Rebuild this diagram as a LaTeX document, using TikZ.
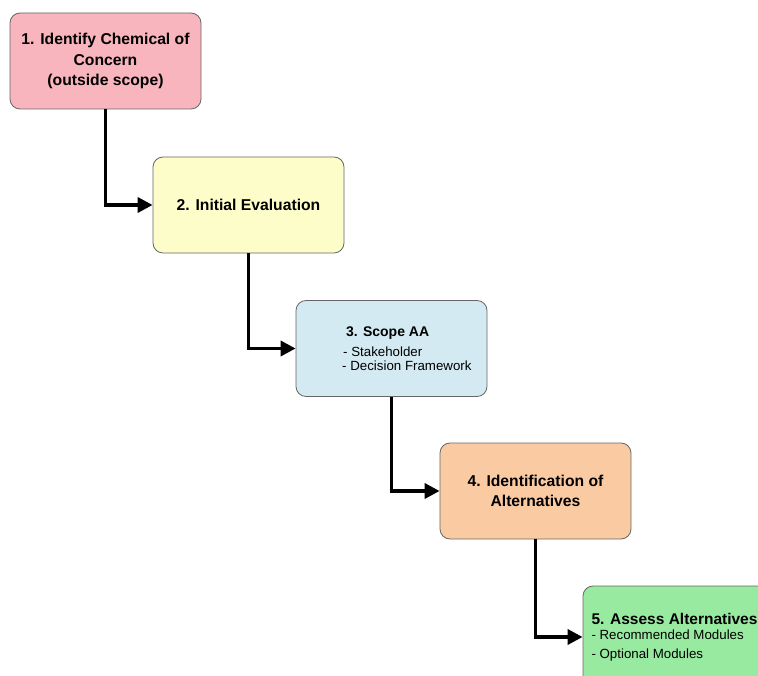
\documentclass[tikz,border=0pt]{standalone}
\usepackage{fontspec}
\setmainfont{Liberation Sans}
\usetikzlibrary{arrows.meta}
\usepackage{xcolor}

\definecolor{stepPink}{HTML}{F8B5BD}
\definecolor{stepYellow}{HTML}{FDFDC9}
\definecolor{stepBlue}{HTML}{D4EAF2}
\definecolor{stepOrange}{HTML}{FACBA3}
\definecolor{stepGreen}{HTML}{98EAA0}

\newcommand{\itemfont}{\fontsize{13.3}{16}\selectfont\mdseries}

\begin{document}
\begin{tikzpicture}[x=1pt, y=-1pt,
    stepbox/.style={rectangle, rounded corners=10pt, draw=black!60, line width=0.8pt,
      minimum width=191pt, minimum height=96pt, inner sep=0pt, align=center,
      font=\fontsize{15.7}{20.5}\selectfont\bfseries},
    flow/.style={draw=black, line width=3.5pt, -{Triangle[length=15pt, width=15pt]}}]

      \useasboundingbox (0, 0) rectangle (758, 676);

      \node[stepbox, fill=stepPink] (s1) at (105.5, 61) {1. Identify Chemical of\\ Concern\\ (outside scope)};
      \node[stepbox, fill=stepYellow] (s2) at (248.5, 205) {2. Initial Evaluation};
      \node[stepbox, fill=stepBlue] (s3) at (391.5, 348.5) {};
      \node[stepbox, fill=stepOrange] (s4) at (535.5, 491) {4. Identification of\\ Alternatives};
      \node[stepbox, fill=stepGreen, minimum width=192pt, minimum height=102pt, text width=175pt, align=flush left,
        font=\fontsize{15.5}{18}\selectfont\bfseries] (s5) at (679, 637)
        {5. Assess Alternatives\\[-1pt] \itemfont - Recommended Modules\\[1pt] \itemfont - Optional Modules};

      \node[align=flush left, inner sep=0pt, anchor=west, font=\fontsize{14}{20}\selectfont\bfseries] (t3) at (342, 348.5)
        {\hspace*{4pt}3. Scope AA\\
         \hspace*{1pt}\itemfont - Stakeholder\\[-6.5pt] \itemfont - Decision Framework};

      \draw[flow] (s1.south) |- (s2.west);
      \draw[flow] (s2.south) |- (s3.west);
      \draw[flow] (s3.south) |- (s4.west);
      \draw[flow] (s4.south) |- (s5.west);

    \end{tikzpicture}
\end{document}
